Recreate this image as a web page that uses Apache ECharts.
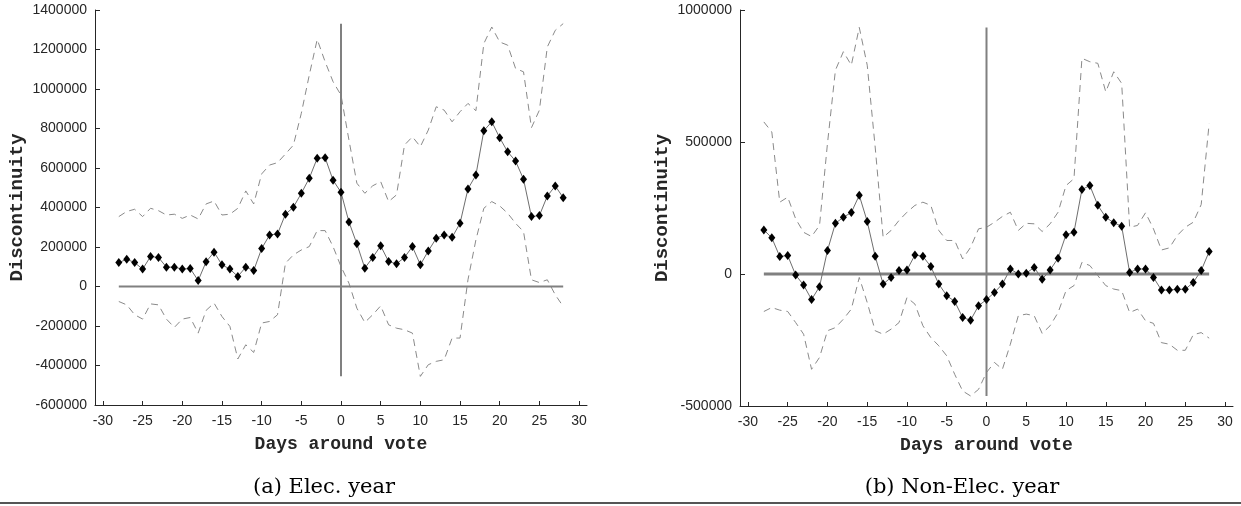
<!DOCTYPE html>
<html>
<head>
<meta charset="utf-8">
<title>Discontinuity around vote</title>
<script src="https://cdn.jsdelivr.net/npm/echarts@6/dist/echarts.min.js"></script>
<style>
    html, body { margin: 0; padding: 0; background: #ffffff; }
    #chart { width: 1241px; height: 506px; }
</style>
</head>
<body>
<div id="chart"></div>
<script>
    // days around the vote
    const days = [-28,-27,-26,-25,-24,-23,-22,-21,-20,-19,-18,-17,-16,-15,-14,-13,-12,-11,-10,-9,-8,-7,-6,-5,-4,-3,-2,-1,0,
        1,2,3,4,5,6,7,8,9,10,11,12,13,14,15,16,17,18,19,20,21,22,23,24,25,26,27,28];
    const xTicks = [-30,-25,-20,-15,-10,-5,0,5,10,15,20,25,30];

    // (a) election year, in thousands
    const elecMain = [121,138,121,88,152,147,98,98,88,91,30,125,174,110,88,51,98,81,192,261,266,366,401,472,548,649,652,538,477,
        327,216,93,147,206,126,115,147,202,110,180,244,261,249,320,494,564,789,834,753,682,635,543,354,359,458,509,450];
    const elecUpper = [354,380,391,354,396,384,362,366,345,362,342,418,433,362,366,396,484,418,570,615,627,671,716,877,1070,1251,1138,1037,969,
        742,523,472,510,531,430,464,716,758,708,792,910,893,834,885,927,890,1230,1314,1238,1222,1104,1087,804,893,1213,1297,1331];
    const elecLower = [-76,-93,-143,-165,-88,-93,-165,-207,-165,-157,-236,-121,-84,-152,-202,-367,-295,-334,-185,-177,-143,118,160,185,202,283,283,202,101,
        17,-110,-182,-143,-98,-194,-211,-219,-236,-455,-396,-379,-371,-261,-261,34,236,396,430,408,371,320,278,34,20,34,-42,-101];

    // (b) non-election year, in thousands
    const nonMain = [167,137,66,70,-4,-42,-97,-48,89,192,215,233,298,199,67,-38,-13,13,15,72,67,28,-38,-82,-104,-165,-175,-120,-97,
        -70,-38,19,0,3,25,-20,15,60,149,158,320,335,260,215,194,181,6,19,19,-13,-61,-61,-58,-58,-32,13,85];
    const nonUpper = [576,538,272,291,209,158,142,184,494,772,842,791,934,791,481,139,165,203,234,260,272,260,165,127,127,57,101,171,177,
        196,218,234,165,192,190,161,190,234,335,361,817,804,798,690,766,722,177,184,232,171,91,99,146,177,196,263,570];
    const nonLower = [-142,-127,-137,-142,-184,-228,-361,-316,-215,-203,-171,-133,-13,-108,-215,-228,-209,-184,-89,-114,-196,-241,-272,-310,-380,-443,-462,-437,-373,
        -335,-361,-266,-158,-152,-158,-225,-196,-146,-63,-44,44,32,-6,-44,-57,-63,-146,-133,-177,-187,-260,-266,-289,-289,-230,-222,-243];

    const toPairs = arr => arr.map((v, i) => [days[i], v * 1000]);

    const axisColor = '#262626';
    const labelFont = { color: axisColor, fontFamily: 'Liberation Sans', fontSize: 14 };
    const nameFont = { color: axisColor, fontFamily: 'Liberation Mono', fontWeight: 'bold' };

    function makeX(idx) {
        return {
            type: 'value', gridIndex: idx, min: -31, max: 31, position: 'bottom',
            name: 'Days around vote', nameLocation: 'middle', nameGap: 30,
            nameTextStyle: Object.assign({ fontSize: 18 }, nameFont),
            axisLine: { onZero: false, lineStyle: { color: axisColor, width: 1 } },
            axisTick: { inside: true, length: 4, customValues: xTicks, lineStyle: { color: axisColor } },
            axisLabel: Object.assign({ margin: 9, customValues: xTicks, formatter: v => String(v) }, labelFont),
            splitLine: { show: false }
        };
    }

    function makeY(idx, min, max, step) {
        return {
            type: 'value', gridIndex: idx, min: min, max: max, interval: step, position: 'left',
            name: 'Discontinuity', nameLocation: 'middle', nameRotate: 90, nameGap: 68,
            nameTextStyle: Object.assign({ fontSize: 19 }, nameFont),
            axisLine: { show: true, onZero: false, lineStyle: { color: axisColor, width: 1 } },
            axisTick: { show: true, inside: true, length: 5, lineStyle: { color: axisColor } },
            axisLabel: Object.assign({ margin: 8, formatter: v => String(v) }, labelFont),
            splitLine: { show: false }
        };
    }

    function panelSeries(idx, main, upper, lower, zeroWidth) {
        const lo = Math.min.apply(null, lower) * 1000;
        const hi = Math.max.apply(null, upper) * 1000;
        const base = { type: 'line', xAxisIndex: idx, yAxisIndex: idx, silent: true, animation: false };
        const band = { color: '#8a8a8a', width: 1, type: [7, 5] };
        return [
            Object.assign({}, base, { data: toPairs(upper), symbol: 'none', lineStyle: band, z: 2 }),
            Object.assign({}, base, { data: toPairs(lower), symbol: 'none', lineStyle: band, z: 2 }),
            Object.assign({}, base, { data: [[days[0], 0], [days[days.length - 1], 0]], symbol: 'none',
                lineStyle: { color: '#808080', width: zeroWidth }, z: 3 }),
            Object.assign({}, base, { data: [[0, lo], [0, hi]], symbol: 'none',
                lineStyle: { color: '#808080', width: 2 }, z: 3 }),
            Object.assign({}, base, { data: toPairs(main), symbol: 'diamond', symbolSize: [7, 9], showAllSymbol: true,
                itemStyle: { color: '#000000' }, lineStyle: { color: '#6e6e6e', width: 1 }, z: 5 })
        ];
    }

    const myChart = echarts.init(document.getElementById('chart'));
    myChart.setOption({
        backgroundColor: '#ffffff',
        animation: false,
        grid: [
            { left: 95, top: 10, width: 492, height: 395 },
            { left: 740, top: 10, width: 493, height: 396 }
        ],
        xAxis: [makeX(0), makeX(1)],
        yAxis: [makeY(0, -600000, 1400000, 200000), makeY(1, -500000, 1000000, 500000)],
        series: panelSeries(0, elecMain, elecUpper, elecLower, 2)
            .concat(panelSeries(1, nonMain, nonUpper, nonLower, 3)),
        graphic: [
            { type: 'text', x: 324, y: 488, style: { text: '(a) Elec. year', fontFamily: 'DejaVu Serif', fontSize: 21,
                fill: '#000', align: 'center', verticalAlign: 'middle' } },
            { type: 'text', x: 962, y: 488, style: { text: '(b) Non-Elec. year', fontFamily: 'DejaVu Serif', fontSize: 21,
                fill: '#000', align: 'center', verticalAlign: 'middle' } },
            { type: 'line', shape: { x1: 0, y1: 503, x2: 1241, y2: 503 }, style: { stroke: '#555555', lineWidth: 2 } }
        ]
    });
</script>
</body>
</html>
